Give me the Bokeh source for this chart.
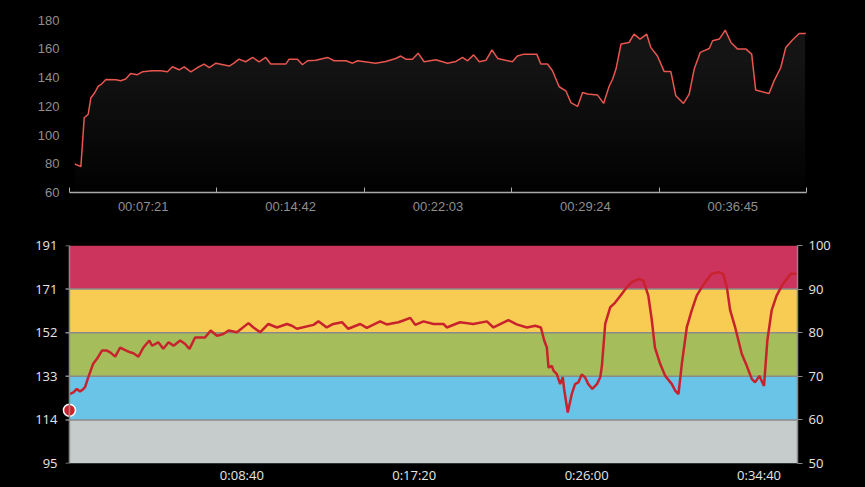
from bokeh.plotting import figure
from bokeh.layouts import column, row
from bokeh.models import FixedTicker, LinearAxis, Range1d, Span
from bokeh.embed import file_html
from bokeh.resources import INLINE

# ---------------- data ----------------
# top chart: heart rate (bpm) vs elapsed seconds
top_t = [16, 34, 44, 56, 64, 76, 86, 96, 109, 139, 153, 168, 183, 203, 218, 248, 273, 293, 308, 328,
         343, 363, 383, 403, 418, 438, 478, 492, 507, 527, 548, 567, 587, 602, 647, 657, 682, 697, 712, 737,
         772, 792, 827, 847, 862, 916, 946, 976, 991, 1006, 1026, 1043, 1061, 1096, 1131, 1156, 1176, 1191,
         1209, 1226, 1246, 1264, 1281, 1325, 1340, 1360, 1398, 1410, 1430, 1445, 1465, 1485, 1500, 1520,
         1535, 1550, 1580, 1598, 1614, 1625, 1635, 1650, 1674, 1689, 1707, 1727, 1739, 1759, 1779, 1799,
         1814, 1837, 1854, 1869, 1887, 1914, 1924, 1944, 1962, 1979, 1999, 2024, 2041, 2053, 2093, 2108,
         2128, 2143, 2163, 2183, 2203]
top_hr = [79.8, 78, 112, 114.5, 126, 129.6, 134, 135.5, 138.7, 138.5, 137.8, 139, 142.8, 142, 144, 144.7,
          144.7, 144, 147.5, 145.4, 147.5, 144, 147, 149.4, 147, 150, 148, 150, 152.8, 151, 154, 151, 154,
          149.4, 149.4, 152.8, 152.8, 148.9, 151.7, 152, 154, 151.7, 151.7, 150, 151.7, 150, 151.2, 153.3,
          155, 152.8, 152.8, 157, 151, 152.4, 150, 151.2, 154, 151.7, 155.8, 151, 152, 159.3, 153.3, 151,
          155, 156.3, 156.3, 149.4, 149.4, 144.7, 133.6, 130.8, 122.6, 119.9, 129.6, 128.5, 127.8, 122,
          133.6, 139, 145.9, 163.3, 164.4, 170.2, 166.8, 170.2, 161, 155, 144.3, 144.3, 127.3, 122, 128.5,
          145.9, 157.5, 160.2, 165.6, 166.8, 173, 164.4, 159.8, 159.8, 156.3, 131.3, 128.9, 137.7, 147,
          161, 166.2, 170.7, 170.7]
top_ytick_vals = [60, 80, 100, 120, 140, 160, 180]
top_x_step = 441
top_x_labels = ["00:07:21", "00:14:42", "00:22:03", "00:29:24", "00:36:45"]

# bottom chart: % of max heart rate vs elapsed seconds
bot_t = [0, 12, 22, 32, 42, 47, 57, 71, 83, 98, 113, 123, 138, 153, 168, 183, 193, 208, 223, 241, 249,
         268, 283, 299, 314, 334, 349, 362, 379, 409, 426, 445, 464, 480, 505, 540, 555, 575, 600, 626,
         656, 671, 686, 736, 751, 776, 796, 822, 841, 877, 897, 937, 957, 992, 1007, 1028, 1043, 1068,
         1098, 1128, 1138, 1178, 1218, 1259, 1279, 1324, 1349, 1380, 1405, 1422, 1432, 1440, 1445, 1455,
         1460, 1470, 1480, 1488, 1492, 1503, 1515, 1525, 1535, 1545, 1555, 1565, 1577, 1591, 1601, 1606,
         1616, 1631, 1646, 1666, 1681, 1696, 1716, 1731, 1746, 1756, 1766, 1782, 1797, 1817, 1827, 1837,
         1847, 1862, 1877, 1892, 1907, 1922, 1937, 1957, 1972, 1983, 1993, 2008, 2028, 2043, 2058, 2068,
         2081, 2095, 2105, 2118, 2133, 2149, 2164, 2176, 2194]
bot_pct = [65.9, 66.3, 67.1, 66.5, 67.1, 67.5, 69.8, 72.8, 74.0, 75.9, 75.9, 75.5, 74.5, 76.6, 76.0, 75.5,
           75.3, 74.5, 76.6, 78.2, 77.0, 77.8, 76.3, 77.8, 77.0, 78.2, 77.4, 76.3, 78.9, 78.9, 80.5, 79.3,
           79.7, 80.5, 80.1, 82.2, 81.2, 80.1, 82.0, 81.2, 82.0, 81.6, 80.9, 81.8, 82.6, 81.2, 82.0, 82.4,
           80.9, 82.0, 81.1, 82.6, 81.9, 82.4, 82.8, 83.4, 81.8, 82.6, 82.0, 82.0, 81.2, 82.4, 82.0, 82.6,
           81.2, 82.9, 81.9, 81.2, 81.6, 81.2, 78.2, 76.6, 72.0, 72.4, 71.3, 70.5, 68.2, 69.8, 67.1, 61.7,
           65.9, 68.2, 68.6, 70.4, 69.8, 68.2, 67.1, 68.2, 69.8, 72.4, 82.0, 85.8, 86.9, 88.9, 90.4, 91.6,
           92.3, 92.0, 88.5, 83.2, 76.6, 72.8, 70.1, 68.2, 66.7, 65.9, 72.8, 81.2, 85.1, 88.5, 90.4, 92.0,
           93.5, 93.9, 93.5, 90.4, 85.1, 81.2, 75.1, 72.4, 69.4, 68.6, 70.1, 67.8, 78.2, 85.1, 88.5, 90.8,
           92.3, 93.5, 93.5]
marker_t = [0]
marker_pct = [62.2]
zone_edges = [50, 60, 70, 80, 90, 100]
zone_bpm_labels = ["95", "114", "133", "152", "171", "191"]
zone_colors = ["#c6cbcb", "#69c4e8", "#a6bd5b", "#f8cb53", "#cc335d"]
bot_xtick_vals = [520, 1040, 1560, 2080]
bot_x_labels = ["0:08:40", "0:17:20", "0:26:00", "0:34:40"]
bot_t_end = 2196

# ---------------- top figure ----------------
n_int = len(top_x_labels)
top = figure(frame_width=737, frame_height=177, output_backend="svg", toolbar_location=None,
             x_range=Range1d(0, top_x_step * n_int), y_range=Range1d(60, 183.2),
             min_border_left=69, min_border_right=59, min_border_top=15, min_border_bottom=38,
             background_fill_color="black", border_fill_color="black", outline_line_color=None)
top.grid.visible = False

# gradient-like fill under the line (stacked translucent layers)
levels = list(range(60, 180, 5))
for lv in levels:
    top.varea(x=top_t, y1=[lv] * len(top_t), y2=[max(h, lv) for h in top_hr],
              fill_color="#2e2425", fill_alpha=0.05)
top.line(top_t, top_hr, line_color="#e8564f", line_width=1.5)

major = [top_x_step * (i + 0.5) for i in range(n_int)]
minor = [top_x_step * i for i in range(n_int + 1)]
top.xaxis.ticker = FixedTicker(ticks=major, minor_ticks=minor)
top.xaxis.major_label_overrides = {m: lab for m, lab in zip(major, top_x_labels)}
top.xaxis.major_tick_line_color = None
top.xaxis.major_tick_out = 0
top.xaxis.major_tick_in = 0
top.xaxis.minor_tick_in = 5
top.xaxis.minor_tick_out = 0
top.xaxis.minor_tick_line_color = "#aaaaaa"
top.xaxis.axis_line_color = "#aaaaaa"
top.xaxis.axis_line_width = 1.5
top.xaxis.major_label_text_color = "#8f8f8f"
top.xaxis.major_label_text_font = "Liberation Sans"
top.xaxis.major_label_text_font_size = "13px"
top.xaxis.major_label_standoff = 6

top.yaxis.ticker = FixedTicker(ticks=top_ytick_vals)
top.yaxis.axis_line_color = None
top.yaxis.major_tick_line_color = None
top.yaxis.major_tick_out = 0
top.yaxis.minor_tick_line_color = None
top.yaxis.major_label_text_color = "#8f8f8f"
top.yaxis.major_label_text_font = "Liberation Sans"
top.yaxis.major_label_text_font_size = "13px"
top.yaxis.major_label_standoff = 10

# ---------------- bottom figure ----------------
# a little empty room left of t=0 so the position dot is not clipped
pad = 27
bot = figure(frame_width=737, frame_height=218, output_backend="svg", toolbar_location=None,
             x_range=Range1d(-pad, bot_t_end), y_range=Range1d(50, 100),
             min_border_left=60, min_border_right=68, min_border_top=15, min_border_bottom=24,
             background_fill_color="black", border_fill_color="black", outline_line_color=None)
bot.grid.visible = False

for i, c in enumerate(zone_colors):
    bot.quad(left=0, right=bot_t_end, bottom=zone_edges[i], top=zone_edges[i + 1],
             fill_color=c, line_color=None)
for e in zone_edges[1:-1]:
    bot.segment(x0=0, x1=bot_t_end, y0=e, y1=e, line_color="#8a8a8a", line_width=1.5)

# left axis line and ticks at t=0
bot.add_layout(Span(location=0, dimension="height", line_color="#8a8a8a", line_width=1.5))
bot.segment(x0=[-12] * len(zone_edges), x1=[0] * len(zone_edges), y0=zone_edges, y1=zone_edges,
            line_color="#8a8a8a", line_width=1.5)

bot.line(bot_t, bot_pct, line_color="#c8232c", line_width=2.5)
bot.scatter(marker_t, marker_pct, size=12, fill_color="#cc2229", line_color="white", line_width=1.5)

bot.xaxis.ticker = FixedTicker(ticks=bot_xtick_vals)
bot.xaxis.major_label_overrides = {v: l for v, l in zip(bot_xtick_vals, bot_x_labels)}
bot.xaxis.axis_line_color = None
bot.xaxis.major_tick_line_color = None
bot.xaxis.major_tick_out = 0
bot.xaxis.major_tick_in = 0
bot.xaxis.minor_tick_line_color = None
bot.xaxis.major_label_standoff = 2

bot.yaxis.ticker = FixedTicker(ticks=zone_edges)
bot.yaxis.major_label_overrides = {v: l for v, l in zip(zone_edges, zone_bpm_labels)}
bot.yaxis.axis_line_color = None
bot.yaxis.major_tick_line_color = None
bot.yaxis.major_tick_out = 0
bot.yaxis.major_tick_in = 0
bot.yaxis.major_label_standoff = 3

right = LinearAxis(ticker=FixedTicker(ticks=zone_edges))
bot.add_layout(right, "right")
right.axis_line_color = "#8a8a8a"
right.axis_line_width = 1.5
right.major_tick_line_color = "#8a8a8a"
right.major_tick_out = 5
right.major_tick_in = 0
right.major_label_standoff = 6

for ax in [bot.xaxis[0], bot.yaxis[0], right]:
    ax.major_label_text_color = "#e6e6e6"
    ax.major_label_text_font = "Open Sans"
    ax.major_label_text_font_size = "13px"
    ax.minor_tick_line_color = None

layout = column(row(top), row(bot), spacing=0, styles={"background-color": "black"})

open("out.html", "w").write(file_html(layout, INLINE))
